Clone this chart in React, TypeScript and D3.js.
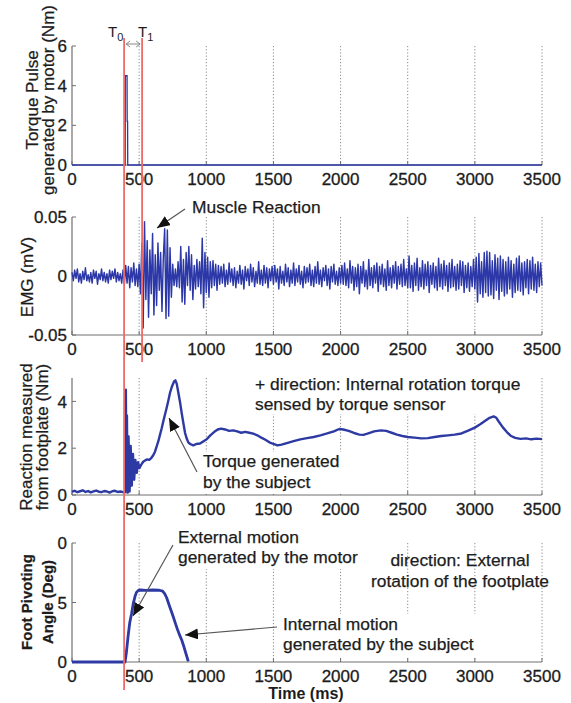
import React from "react";
import * as d3 from "d3";

const FONT = "'Liberation Sans', Arial, Helvetica, sans-serif";
const BLUE = "#2e3aa4";
const EMG_BLUE = "#2c38a8";
const AXIS = "#707070";
const RED = "#ee6b6b";
const INK = "#1c1c1c";

const X_TICKS = [0, 500, 1000, 1500, 2000, 2500, 3000, 3500];

// torque pulse generated by motor (ms, Nm)
const PULSE_T = [0, 396, 397, 410, 411, 414, 415, 3500];
const PULSE_V = [0, 0, 4.5, 4.5, 2.2, 2.2, 0, 0];

// EMG, one sample every 10 ms, in 1/1000 mV
const EMG_STEP = 10;
const EMG = [
  3, -4, 5, -2, 6, -5, 2, -6, 4, -3, 7, -4, 1, -5, 3, -6, 5, -2, 4, -7,
  2, -3, 6, -4, 3, -5, 2, -6, 5, -3, 4, -2, 6, -5, 3, -4, 2, -6, 5,
  -7, 9, -6, 8, -10, 7, -5, 11, -8, 6, -9,
  10, -15, 28, -44, 46,
  -20, 30, -35, 22, -15, 36, -33, 18, -25, 28, -12, 20, -30, 15, 40, -36, 39, -34, 24, -18,
  10, -8, 6, -9, 12, -10,
  25, -22, 14, -24, 20, -8, 25, -12, 18, -20, 9, -11, 14, -9, 12, -15, 32, -27, 20, -14,
  16, -18, 12, -10, 13, -8, 10, -12, 9, -7,
  8, -6, 10, -9, 5, -7, 11, -5, 6, -8,
  7, -10, 4, -6, 9, -7, 5, -11, 8, -4,
  6, -8, 10, -5, 7, -9, 4, -6, 12, -7,
  5, -8, 9, -6, 7, -10, 6, -4, 8, -7,
  9, -5, 6, -11, 8, -6, 4, -8, 10, -5,
  7, -9, 5, -6, 11, -8, 6, -5, 9, -7,
  4, -10, 8, -6, 7, -5, 10, -8, 5, -9,
  8, -6, 12, -7, 5, -9, 7, -4, 9, -8,
  6, -11, 8, -5, 10, -7, 4, -8, 7, -6,
  9, -7, 11, -8, 6, -10, 13, -6, 8, -12,
  7, -9, 10, -15, 8, -6, 12, -9, 5, -11,
  14, -8, 7, -10, 9, -6, 11, -13, 8, -7,
  10, -9, 6, -12, 13, -8, 7, -10, 9, -6,
  12, -11, 8, -7, 10, -9, 14, -8, 6, -10,
  17, -10, 9, -13, 11, -8, 15, -12, 7, -9,
  13, -11, 10, -8, 12, -14, 9, -7, 11, -10,
  8, -12, 15, -9, 10, -11, 13, -8, 9, -13,
  11, -10, 14, -9, 8, -12, 10, -11, 13, -8,
  12, -14, 9, -10, 11, -13, 8, -9, 14, -11,
  16, -22, 19, -15, 12, -18, 20, -14, 21, -17,
  20, -16, 13, -19, 18, -12, 15, -20, 17, -13,
  14, -17, 12, -15, 16, -11, 13, -18, 10, -14,
  15, -12, 17, -13, 11, -16, 12, -10, 14, -15,
  13, -11, 16, -12, 10, -14, 12, -9, 11, -8,
];

// reaction measured from footplate (ms, Nm)
const REACT_T = [
  0, 20, 40, 60, 80, 100, 120, 140, 160, 180, 200, 220, 240, 260, 280, 300, 320, 340, 360, 380, 390, 396,
  401, 405, 409, 414, 421, 429, 437, 445, 454, 463, 472, 482, 492, 503, 516,
  530, 545, 560, 575, 590, 605, 618, 630, 643, 655, 668, 680, 693, 705, 718, 730, 745, 760, 770, 780,
  792, 805, 817, 830, 842, 855, 866, 880, 903, 925, 953, 980, 1003, 1030, 1060, 1085, 1110, 1140, 1170,
  1200, 1230, 1260, 1290, 1320, 1350, 1380, 1410, 1440, 1470, 1500, 1530, 1560, 1600, 1650, 1700, 1750,
  1800, 1850, 1900, 1950, 1990, 2020, 2060, 2100, 2140, 2170, 2200, 2250, 2300, 2340, 2380, 2420, 2460,
  2500, 2550, 2600, 2650, 2700, 2750, 2800, 2850, 2900, 2950, 3000, 3040, 3080, 3110, 3140, 3160, 3180,
  3210, 3240, 3270, 3300, 3340, 3380, 3420, 3460, 3500,
];
const REACT_V = [
  0.14, 0.18, 0.12, 0.16, 0.2, 0.13, 0.17, 0.11, 0.15, 0.19, 0.14, 0.12, 0.17, 0.15, 0.1, 0.16, 0.18, 0.13, 0.15, 0.12, 0.1, 0.12,
  4.5, 0.2, 3.4, 0.1, 2.5, 0.15, 2.1, 0.4, 1.75, 0.65, 1.5, 0.95, 1.4, 1.15, 1.3,
  1.42, 1.48, 1.52, 1.5, 1.58, 1.7, 1.85, 2.07, 2.3, 2.57, 2.85, 3.15, 3.45, 3.73, 4.05, 4.37, 4.65, 4.85, 4.9, 4.75,
  4.37, 3.95, 3.5, 3.05, 2.65, 2.4, 2.25, 2.18, 2.12, 2.18, 2.2, 2.3, 2.38, 2.55, 2.7, 2.8, 2.84, 2.8, 2.74,
  2.76, 2.72, 2.66, 2.7, 2.66, 2.62, 2.55, 2.45, 2.36, 2.25, 2.18, 2.12, 2.15, 2.22, 2.3, 2.38, 2.43,
  2.48, 2.55, 2.63, 2.72, 2.82, 2.8, 2.74, 2.65, 2.58, 2.57, 2.62, 2.72, 2.76, 2.74, 2.66, 2.58, 2.52,
  2.48, 2.45, 2.42, 2.43, 2.48, 2.52, 2.55, 2.58, 2.63, 2.75, 2.88, 3.02, 3.18, 3.3, 3.36, 3.3, 3.12,
  2.88, 2.68, 2.52, 2.44, 2.4, 2.42, 2.38, 2.41, 2.39,
];

// foot pivoting angle (ms, deg)
const ANGLE_T = [0, 395, 405, 418, 430, 444, 456, 469, 480, 494, 510, 550, 600, 650, 675, 690, 705, 720, 737, 754, 770, 785, 800, 817, 833, 850, 866];
const ANGLE_V = [0, 0, 0.8, 2.2, 3.3, 4.1, 4.9, 5.5, 5.85, 6.02, 6.05, 6.02, 6.05, 6.03, 5.95, 5.75, 5.4, 4.9, 4.35, 3.8, 3.25, 2.75, 2.3, 1.85, 1.3, 0.65, 0.05];

const T0 = 388;
const T1 = 522;

type PanelDef = {
  top: number;
  bottom: number;
  domain: [number, number];
  ticks: number[];
  tickText: string[];
  label: string[];
  labelX: number[];
  labelY: number;
  bold?: boolean;
};

const x = d3.scaleLinear().domain([0, 3500]).range([72, 542]);

function Panel({ p }: { p: PanelDef }) {
  const y = d3.scaleLinear().domain(p.domain).range([p.bottom, p.top]);
  return (
    <g>
      {X_TICKS.filter((t) => t > 0).map((t) => (
        <line key={"g" + t} x1={x(t)} x2={x(t)} y1={p.top} y2={p.bottom} stroke="#8a8a8a" strokeDasharray="1.2,2" strokeWidth={1} />
      ))}
      <line x1={x(0)} x2={x(3500)} y1={p.bottom} y2={p.bottom} stroke={AXIS} strokeWidth={1.2} />
      <line x1={x(0)} x2={x(0)} y1={p.bottom} y2={p.top} stroke={AXIS} strokeWidth={1.2} />
      {X_TICKS.map((t) => (
        <g key={"x" + t}>
          <line x1={x(t)} x2={x(t)} y1={p.bottom} y2={p.bottom - 4} stroke={AXIS} />
          <text x={x(t)} y={p.bottom + 20} textAnchor="middle" fontSize={17} fill={INK} stroke={INK} strokeWidth={0.3}>{t}</text>
        </g>
      ))}
      {p.ticks.map((v, i) => (
        <g key={"y" + i}>
          <line x1={x(0)} x2={x(0) + 4} y1={y(v)} y2={y(v)} stroke={AXIS} />
          <text x={67} y={y(v)} dy="0.36em" textAnchor="end" fontSize={17} fill={INK} stroke={INK} strokeWidth={0.3}>{p.tickText[i]}</text>
        </g>
      ))}
      {p.label.map((s, i) => (
        <text
          key={"l" + i}
          transform={`translate(${p.labelX[i]},${p.labelY}) rotate(-90)`}
          textAnchor="middle"
          dominantBaseline="central"
          fontSize={p.bold ? 15 : 17}
          fontWeight={p.bold ? "bold" : "normal"}
          fill={INK}
          stroke={INK}
          strokeWidth={0.25}
        >
          {s}
        </text>
      ))}
    </g>
  );
}

export default function App() {
  const panels: PanelDef[] = [
    { top: 46, bottom: 165, domain: [0, 6], ticks: [0, 2, 4, 6], tickText: ["0", "2", "4", "6"], label: ["Torque Pulse", "generated by motor (Nm)"], labelX: [32, 48], labelY: 100 },
    { top: 217, bottom: 335, domain: [-0.05, 0.05], ticks: [-0.05, 0, 0.05], tickText: ["-0.05", "0", "0.05"], label: ["EMG (mV)"], labelX: [27], labelY: 277 },
    { top: 378, bottom: 495, domain: [0, 5], ticks: [0, 2, 4], tickText: ["0", "2", "4"], label: ["Reaction measured", "from footplate (Nm)"], labelX: [26, 42], labelY: 437 },
    { top: 543, bottom: 662, domain: [0, 10], ticks: [0, 5, 10], tickText: ["0", "5", "0"], label: ["Foot Pivoting", "Angle (Deg)"], labelX: [26, 47], labelY: 602, bold: true },
  ];
  const ys = panels.map((p) => d3.scaleLinear().domain(p.domain).range([p.bottom, p.top]));

  const mk = (ts: number[], vs: number[], yy: d3.ScaleLinear<number, number>) =>
    d3.line<number>().x((_, i) => x(ts[i])).y((v) => yy(v))(vs) || "";

  const pulsePath = mk(PULSE_T, PULSE_V, ys[0]);
  const emgPath = d3.line<number>().x((_, i) => x(i * EMG_STEP)).y((v) => ys[1](v / 1000))(EMG) || "";
  const reactPath = mk(REACT_T, REACT_V, ys[2]);
  const anglePath = mk(ANGLE_T, ANGLE_V, ys[3]);

  const txt = { fontSize: 17.4, fill: INK, stroke: INK, strokeWidth: 0.25 } as const;

  return (
    <svg width={571} height={703} style={{ position: "absolute", left: 0, top: 0, background: "#fff" }} fontFamily={FONT}>
      <defs>
        <marker id="head" viewBox="0 0 12 10" refX={12} refY={5} markerWidth={13} markerHeight={11} markerUnits="userSpaceOnUse" orient="auto">
          <path d="M0,0 L12,5 L0,10 Z" fill="#111" />
        </marker>
      </defs>
      {panels.map((p, i) => (
        <Panel key={i} p={p} />
      ))}

      {/* text boxes hide the grid behind annotations */}
      <rect x={252} y={371} width={276} height={43} fill="#fff" />
      <rect x={200} y={452} width={144} height={42} fill="#fff" />
      <rect x={175} y={529} width={183} height={40} fill="#fff" />
      <rect x={280} y={614} width={201} height={44} fill="#fff" />

      <path d={pulsePath} fill="none" stroke={BLUE} strokeWidth={1.3} />
      <path d={emgPath} fill="none" stroke={EMG_BLUE} strokeWidth={1.45} strokeLinejoin="round" />
      <path d={reactPath} fill="none" stroke={BLUE} strokeWidth={2.4} strokeLinejoin="round" />
      <path d={anglePath} fill="none" stroke={BLUE} strokeWidth={2.8} strokeLinejoin="round" />

      {/* T0 / T1 markers */}
      <line x1={x(T0)} x2={x(T0)} y1={38} y2={690} stroke={RED} strokeWidth={1.8} />
      <line x1={x(T1)} x2={x(T1)} y1={38} y2={362} stroke={RED} strokeWidth={1.8} />
      <text x={108} y={37} fontSize={15} fill={INK}>T<tspan fontSize={11} dy={4}>0</tspan></text>
      <text x={138} y={37} fontSize={15} fill={INK}>T<tspan fontSize={11} dy={4}>1</tspan></text>
      <g stroke="#888" strokeWidth={1} fill="none">
        <line x1={x(T0) + 2} x2={x(T1) - 2} y1={44} y2={44} />
        <path d={`M${x(T0) + 6},41 L${x(T0) + 2},44 L${x(T0) + 6},47`} />
        <path d={`M${x(T1) - 6},41 L${x(T1) - 2},44 L${x(T1) - 6},47`} />
      </g>

      {/* annotations */}
      <text x={192} y={213} {...txt}>Muscle Reaction</text>
      <line x1={185} y1={209} x2={157} y2={228} stroke="#555" strokeWidth={1.2} markerEnd="url(#head)" />

      <text x={255} y={390} {...txt}>+ direction: Internal rotation torque</text>
      <text x={255} y={410} {...txt}>sensed by torque sensor</text>

      <text x={203} y={467} {...txt}>Torque generated</text>
      <text x={203} y={488} {...txt}>by the subject</text>
      <line x1={197} y1={472} x2={169} y2={418} stroke="#555" strokeWidth={1.2} markerEnd="url(#head)" />

      <text x={178} y={543} {...txt}>External motion</text>
      <text x={178} y={563} {...txt}>generated by the motor</text>
      <line x1={173} y1={545} x2={133} y2={616} stroke="#555" strokeWidth={1.2} markerEnd="url(#head)" />

      <text x={460} y={566} textAnchor="middle" {...txt}>direction: External</text>
      <text x={460} y={587} textAnchor="middle" {...txt}>rotation of the footplate</text>

      <text x={283} y={630} {...txt}>Internal motion</text>
      <text x={283} y={650} {...txt}>generated by the subject</text>
      <line x1={277} y1={627} x2={185} y2={635} stroke="#555" strokeWidth={1.2} markerEnd="url(#head)" />

      <text x={306} y={699} textAnchor="middle" fontSize={16} fontWeight="bold" fill={INK}>Time (ms)</text>
    </svg>
  );
}
